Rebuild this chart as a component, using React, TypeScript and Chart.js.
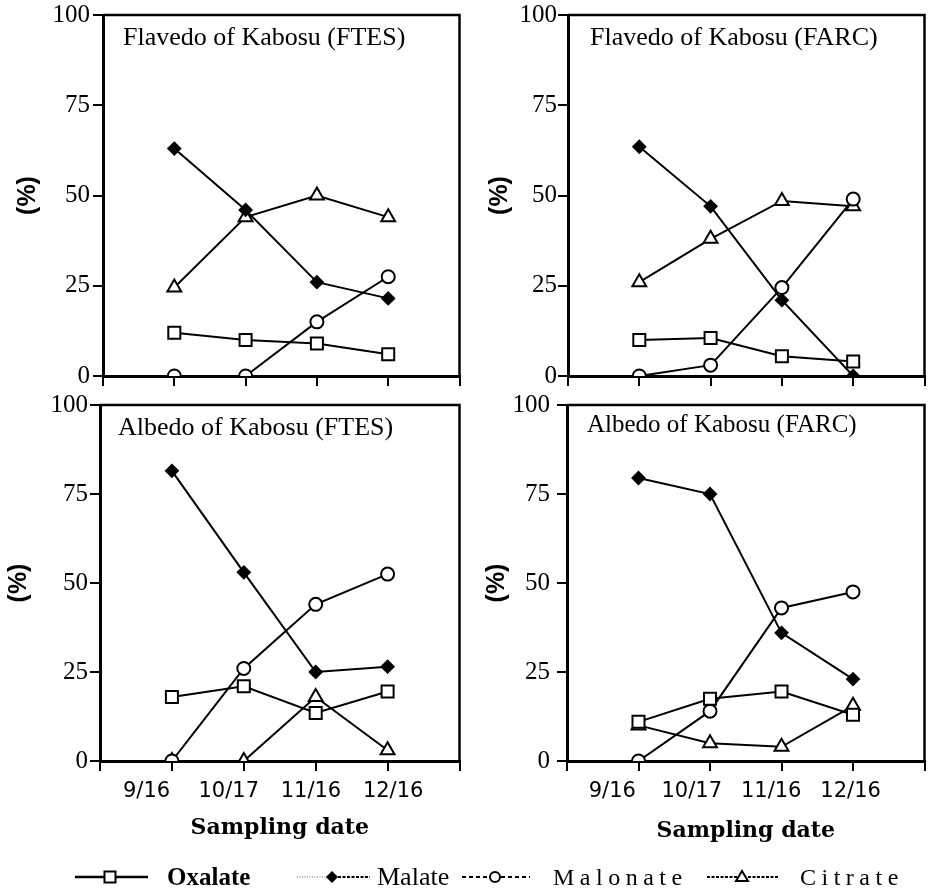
import React, { useEffect, useRef } from 'react';
import { Chart, registerables } from 'chart.js';

Chart.register(...registerables);

// ---------- data ----------
const categories = ['9/16', '10/17', '11/16', '12/16'];
const yTickValues = [0, 25, 50, 75, 100];
const seriesNames = ['Oxalate', 'Malate', 'Malonate', 'Citrate'];

// Flavedo of Kabosu (FTES)
const flavedoFtesOxalate = [12, 10, 9, 6];
const flavedoFtesMalate = [63, 46, 26, 21.5];
const flavedoFtesMalonate = [0, 0, 15, 27.5];
const flavedoFtesCitrate = [24.5, 44, 50, 44];

// Flavedo of Kabosu (FARC)
const flavedoFarcOxalate = [10, 10.5, 5.5, 4];
const flavedoFarcMalate = [63.5, 47, 21, 0];
const flavedoFarcMalonate = [0, 3, 24.5, 49];
const flavedoFarcCitrate = [26, 38, 48.5, 47];

// Albedo of Kabosu (FTES)
const albedoFtesOxalate = [18, 21, 13.5, 19.5];
const albedoFtesMalate = [81.5, 53, 25, 26.5];
const albedoFtesMalonate = [0, 26, 44, 52.5];
const albedoFtesCitrate = [0, 0, 18, 3];

// Albedo of Kabosu (FARC)
const albedoFarcOxalate = [11, 17.5, 19.5, 13];
const albedoFarcMalate = [79.5, 75, 36, 23];
const albedoFarcMalonate = [0, 14, 43, 47.5];
const albedoFarcCitrate = [10, 5, 4, 15.5];

// ---------- styles ----------
const SERIF = "'Liberation Serif', 'Times New Roman', serif";
const SANS = "'Liberation Sans', Arial, sans-serif";

const markerStyles = [
  { pointStyle: 'rect', pointRadius: 8.5, pointBackgroundColor: '#fff' },
  { pointStyle: 'rectRot', pointRadius: 6, pointBackgroundColor: '#000' },
  { pointStyle: 'circle', pointRadius: 6.5, pointBackgroundColor: '#fff' },
  { pointStyle: 'triangle', pointRadius: 8, pointBackgroundColor: '#fff' },
];

const framePlugin = {
  id: 'frame',
  afterDraw(chart: any) {
    const { ctx, chartArea } = chart;
    ctx.save();
    ctx.strokeStyle = '#000';
    ctx.lineWidth = 2.5;
    ctx.beginPath();
    ctx.moveTo(chartArea.left, chartArea.top);
    ctx.lineTo(chartArea.right, chartArea.top);
    ctx.lineTo(chartArea.right, chartArea.bottom);
    ctx.stroke();
    ctx.restore();
  },
};

const panelTitlePlugin = {
  id: 'panelTitle',
  afterDraw(chart: any, _args: any, opts: any) {
    if (!opts || !opts.text) return;
    const { ctx, chartArea } = chart;
    ctx.save();
    ctx.fillStyle = '#000';
    ctx.font = `${opts.size}px ${SERIF}`;
    ctx.textBaseline = 'alphabetic';
    ctx.textAlign = 'left';
    ctx.fillText(opts.text, chartArea.left + opts.dx, chartArea.top + opts.dy);
    ctx.restore();
  },
};

type PanelProps = {
  left: number;
  top: number;
  width: number;
  height: number;
  title: string;
  titleSize: number;
  titleDx: number;
  titleDy: number;
  series: number[][];
  yWidth: number;
  yPad: number;
  yTitlePad: number;
  padTop: number;
  padRight: number;
  bottomAxis: boolean;
  labelMin?: number;
  labelMax?: number;
  xTitlePad?: number;
};

function Panel(p: PanelProps) {
  const ref = useRef<HTMLCanvasElement>(null);
  useEffect(() => {
    if (!ref.current) return;
    const datasets = seriesNames.map((name, si) => ({
      label: name,
      data: categories.map((_c, i) => ({ x: i + 1, y: p.series[si][i] })),
      borderColor: '#000',
      borderWidth: 2,
      pointBorderColor: '#000',
      pointBorderWidth: 2,
      fill: false,
      tension: 0,
      ...markerStyles[si],
    }));

    const noPad = (s: any) => {
      s.paddingTop = 0;
      s.paddingBottom = 0;
      s.paddingLeft = 0;
      s.paddingRight = 0;
    };

    const scales: any = {
      x: {
        type: 'linear',
        position: 'bottom',
        weight: 0,
        min: 0,
        max: 5,
        afterBuildTicks: (s: any) => {
          s.ticks = [0, 1, 2, 3, 4, 5].map((v) => ({ value: v }));
        },
        afterFit: (s: any) => {
          s.height = p.bottomAxis ? 10 : 12;
          noPad(s);
        },
        ticks: { display: false },
        grid: {
          display: true,
          drawOnChartArea: false,
          drawTicks: true,
          tickLength: 10,
          color: '#000',
          lineWidth: 2,
        },
        border: { display: true, color: '#000', width: 3 },
      },
      y: {
        type: 'linear',
        position: 'left',
        min: 0,
        max: 100,
        afterBuildTicks: (s: any) => {
          s.ticks = yTickValues.map((v) => ({ value: v }));
        },
        afterFit: (s: any) => {
          s.width = p.yWidth;
          noPad(s);
        },
        ticks: {
          color: '#000',
          font: { family: SERIF, size: 25 },
          padding: p.yPad,
        },
        grid: {
          display: true,
          drawOnChartArea: false,
          drawTicks: true,
          tickLength: 10,
          color: '#000',
          lineWidth: 2,
        },
        border: { display: true, color: '#000', width: 3 },
        title: {
          display: true,
          text: '(%)',
          color: '#000',
          font: { family: SANS, size: 25, weight: 'bold', lineHeight: 1 },
          padding: { top: p.yTitlePad, bottom: 0 },
        },
      },
    };

    if (p.bottomAxis) {
      scales.x2 = {
        type: 'linear',
        position: 'bottom',
        weight: 1,
        min: p.labelMin,
        max: p.labelMax,
        afterBuildTicks: (s: any) => {
          s.ticks = categories.map((_c, i) => ({ value: i + 1 }));
        },
        afterFit: (s: any) => {
          s.height = 79;
          noPad(s);
        },
        ticks: {
          color: '#000',
          font: { family: "'DejaVu Sans', sans-serif", size: 21, lineHeight: 1.2 },
          padding: 8.4,
          autoSkip: false,
          maxRotation: 0,
          minRotation: 0,
          callback: (v: any) => categories[Math.round(v) - 1] ?? '',
        },
        grid: { display: false, drawTicks: false },
        border: { display: false },
        title: {
          display: true,
          text: 'Sampling date',
          color: '#000',
          font: { family: "'DejaVu Serif', serif", size: 22, weight: 'bold', lineHeight: 1 },
          padding: { top: 0, bottom: p.xTitlePad },
        },
      };
    }

    const chart = new Chart(ref.current, {
      type: 'line',
      data: { datasets } as any,
      options: {
        animation: false,
        responsive: false,
        maintainAspectRatio: false,
        devicePixelRatio: 1,
        layout: { padding: { top: p.padTop, right: p.padRight, bottom: 0, left: 0 } },
        plugins: {
          legend: { display: false },
          tooltip: { enabled: false },
          panelTitle: { text: p.title, size: p.titleSize, dx: p.titleDx, dy: p.titleDy },
        } as any,
        scales,
      } as any,
      plugins: [framePlugin, panelTitlePlugin],
    });
    return () => chart.destroy();
  }, []);
  return (
    <canvas
      ref={ref}
      width={p.width}
      height={p.height}
      style={{
        position: 'absolute',
        left: p.left,
        top: p.top,
        width: p.width,
        height: p.height,
        display: 'block',
      }}
    />
  );
}

function Legend() {
  const y = 877;
  return (
    <svg
      width={928}
      height={892}
      style={{ position: 'absolute', left: 0, top: 0, pointerEvents: 'none' }}
    >
      {/* Oxalate */}
      <line x1={75} x2={148} y1={y} y2={y} stroke="#000" strokeWidth={2.5} />
      <rect x={104.5} y={y - 5.5} width={11} height={11} fill="#fff" stroke="#000" strokeWidth={2} />
      <text x={167} y={885} fontFamily={SERIF} fontWeight="bold" fontSize={25} fill="#000">
        {seriesNames[0]}
      </text>
      {/* Malate */}
      <line x1={297} x2={326} y1={y} y2={y} stroke="#666" strokeWidth={1} strokeDasharray="1 1.5" />
      <polygon
        points={`332,${y - 5.5} 337.5,${y} 332,${y + 5.5} 326.5,${y}`}
        fill="#000"
        stroke="#000"
        strokeWidth={1}
      />
      <line x1={338} x2={370} y1={y} y2={y} stroke="#000" strokeWidth={2} strokeDasharray="3 1.5" />
      <text x={377} y={885} fontFamily={SERIF} fontSize={26} fill="#000">
        {seriesNames[1]}
      </text>
      {/* Malonate */}
      <line x1={462} x2={489} y1={y} y2={y} stroke="#000" strokeWidth={2} strokeDasharray="4 3" />
      <circle cx={495} cy={y} r={5} fill="#fff" stroke="#000" strokeWidth={2} />
      <line x1={501} x2={530} y1={y} y2={y} stroke="#000" strokeWidth={2} strokeDasharray="4 3" />
      <text x={553} y={885} fontFamily={SERIF} fontSize={24} letterSpacing={5.5} fill="#000">
        {seriesNames[2]}
      </text>
      {/* Citrate */}
      <line x1={707} x2={737} y1={y} y2={y} stroke="#000" strokeWidth={2} strokeDasharray="3 1.5" />
      <polygon
        points={`742,${y - 6} 748,${y + 4} 736,${y + 4}`}
        fill="#fff"
        stroke="#000"
        strokeWidth={2}
      />
      <line x1={748} x2={778} y1={y} y2={y} stroke="#000" strokeWidth={2} strokeDasharray="3 1.5" />
      <text x={800} y={885} fontFamily={SERIF} fontSize={24} letterSpacing={5.5} fill="#000">
        {seriesNames[3]}
      </text>
    </svg>
  );
}

export default function App() {
  return (
    <div
      style={{
        position: 'absolute',
        left: 0,
        top: 0,
        width: 928,
        height: 892,
        overflow: 'hidden',
        background: '#fff',
      }}
    >
      <Panel
        left={0}
        top={0}
        width={470}
        height={388}
        title="Flavedo of Kabosu (FTES)"
        titleSize={26}
        titleDx={20}
        titleDy={30}
        series={[flavedoFtesOxalate, flavedoFtesMalate, flavedoFtesMalonate, flavedoFtesCitrate]}
        yWidth={103}
        yPad={3}
        yTitlePad={15.5}
        padTop={15}
        padRight={5}
        bottomAxis={false}
      />
      <Panel
        left={465}
        top={0}
        width={470}
        height={388}
        title="Flavedo of Kabosu (FARC)"
        titleSize={26}
        titleDx={22}
        titleDy={30}
        series={[flavedoFarcOxalate, flavedoFarcMalate, flavedoFarcMalonate, flavedoFarcCitrate]}
        yWidth={103}
        yPad={1}
        yTitlePad={22.5}
        padTop={15}
        padRight={4}
        bottomAxis={false}
      />
      <Panel
        left={0}
        top={390}
        width={470}
        height={460}
        title="Albedo of Kabosu (FTES)"
        titleSize={26}
        titleDx={18}
        titleDy={30}
        series={[albedoFtesOxalate, albedoFtesMalate, albedoFtesMalonate, albedoFtesCitrate]}
        yWidth={100}
        yPad={2}
        yTitlePad={6.5}
        padTop={15}
        padRight={7}
        bottomAxis={true}
        labelMin={0.434}
        labelMax={4.807}
        xTitlePad={11}
      />
      <Panel
        left={465}
        top={390}
        width={470}
        height={460}
        title="Albedo of Kabosu (FARC)"
        titleSize={25}
        titleDx={20}
        titleDy={27}
        series={[albedoFarcOxalate, albedoFarcMalate, albedoFarcMalonate, albedoFarcCitrate]}
        yWidth={102}
        yPad={7}
        yTitlePad={19.5}
        padTop={15}
        padRight={5}
        bottomAxis={true}
        labelMin={0.43}
        labelMax={4.93}
        xTitlePad={8}
      />
      <Legend />
    </div>
  );
}
